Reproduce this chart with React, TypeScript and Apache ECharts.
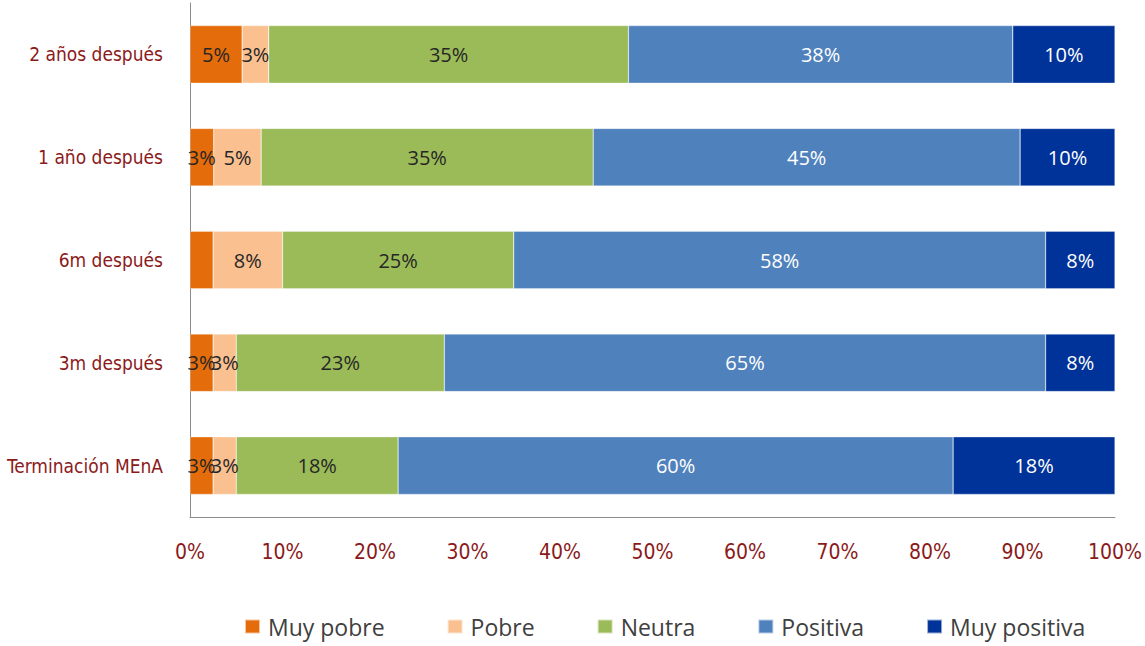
import React, { useEffect, useRef } from "react";
import * as echarts from "echarts";

// Categories, bottom to top (ECharts category axis order)
const categories = [
  "Terminación MEnA",
  "3m después",
  "6m después",
  "1 año después",
  "2 años después",
];

const seriesNames = ["Muy pobre", "Pobre", "Neutra", "Positiva", "Muy positiva"];

// Raw percentages per response level (rows do not always sum to 100)
const muyPobre = [2.5, 2.5, 2.5, 2.5, 5.1];
const pobre = [2.5, 2.5, 7.5, 5.0, 2.6];
const neutra = [17.5, 22.5, 25.0, 35.0, 35.2];
const positiva = [60.0, 65.0, 57.5, 45.0, 37.6];
const muyPositiva = [17.5, 7.5, 7.5, 10.0, 10.0];

// labels hidden in the reference: [seriesIndex, categoryIndex]
const hiddenLabels = [[0, 2]];

const xTicks = [0, 10, 20, 30, 40, 50, 60, 70, 80, 90, 100];

const colors = ["#E46C0A", "#FAC090", "#9BBB59", "#4F81BD", "#003399"];
const labelColors = ["#262626", "#262626", "#262626", "#FFFFFF", "#FFFFFF"];

export default function App() {
  const ref = useRef<HTMLDivElement>(null);

  useEffect(() => {
    if (!ref.current) return;
    const chart = echarts.init(ref.current, null, { renderer: "svg" });
    const raw = [muyPobre, pobre, neutra, positiva, muyPositiva];
    const totals = categories.map((_, i) => raw.reduce((s, arr) => s + arr[i], 0));

    const series = raw.map((arr, si) => ({
      name: seriesNames[si],
      type: "bar",
      stack: "total",
      barWidth: "56%",
      itemStyle: { color: colors[si], borderColor: "rgba(255,255,255,0.6)", borderWidth: 0.5 },
      label: {
        show: true,
        position: "inside",
        color: labelColors[si],
        fontFamily: "Open Sans, Noto Sans, sans-serif",
        fontSize: 20,
        formatter: (p: any) => Math.round(arr[p.dataIndex]) + "%",
      },
      data: arr.map((v, ci) => {
        const hide = hiddenLabels.some(([s, c]) => s === si && c === ci);
        const item: any = { value: (v / totals[ci]) * 100 };
        if (hide) item.label = { show: false };
        return item;
      }),
    }));

    chart.setOption({
      animation: false,
      backgroundColor: "#FFFFFF",
      grid: { left: 190, right: 28, top: 3, bottom: 129, containLabel: false },
      xAxis: {
        type: "value",
        min: xTicks[0],
        max: xTicks[xTicks.length - 1],
        interval: 10,
        axisLine: { show: true, lineStyle: { color: "#8C8C8C", width: 1 } },
        axisTick: { show: false },
        splitLine: { show: false },
        axisLabel: {
          margin: 24,
          color: "#8B1A1A",
          fontFamily: "Liberation Sans Narrow, DejaVu Sans Condensed, sans-serif",
          fontSize: 21,
          formatter: (v: number) => (xTicks.includes(v) ? v + "%" : ""),
        },
      },
      yAxis: {
        type: "category",
        data: categories,
        axisLine: { show: true, lineStyle: { color: "#8C8C8C", width: 1 } },
        axisTick: { show: false },
        axisLabel: {
          margin: 27,
          color: "#8B1A1A",
          fontFamily: "Liberation Sans Narrow, DejaVu Sans Condensed, sans-serif",
          fontSize: 19,
        },
      },
      legend: {
        bottom: 3,
        left: 239,
        itemWidth: 15,
        itemHeight: 14,
        itemGap: 62,
        icon: "rect",
        textStyle: {
          color: "#404040",
          fontFamily: "Open Sans, Noto Sans, sans-serif",
          fontSize: 23,
          padding: [0, 0, 0, 3],
        },
        data: seriesNames,
      },
      series,
    });

    return () => chart.dispose();
  }, []);

  return <div ref={ref} style={{ width: 1145, height: 646, position: "absolute", left: 0, top: 0 }} />;
}
